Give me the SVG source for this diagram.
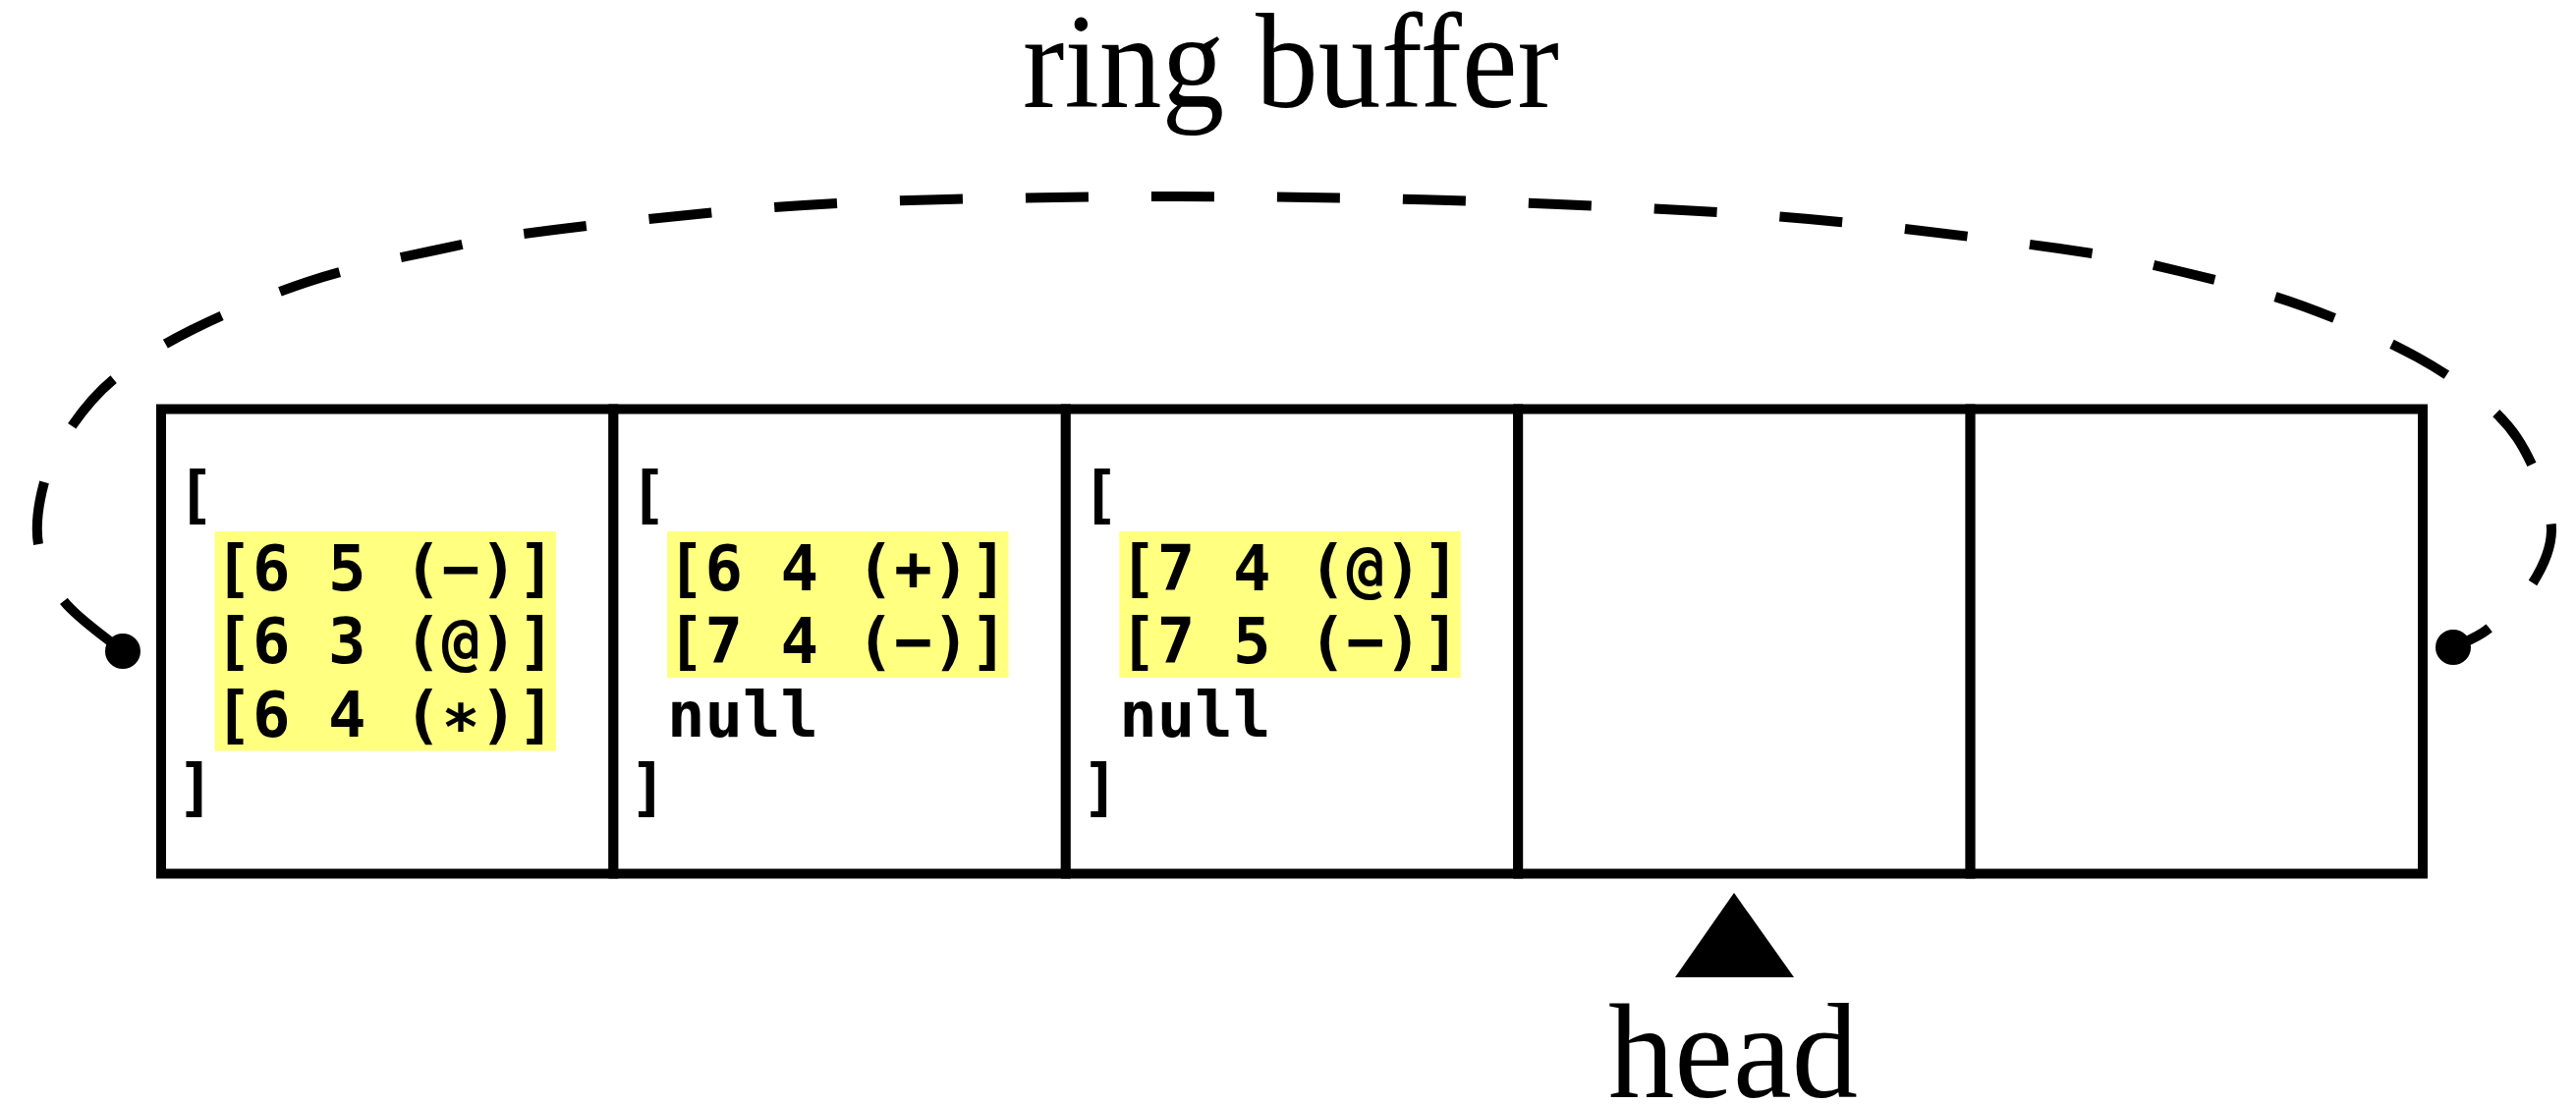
<svg xmlns="http://www.w3.org/2000/svg" width="2622" height="1124" viewBox="0 0 2622 1124">
<style>
.cell{fill:#ffffff;stroke:#000000;stroke-width:10}
.hl{fill:#ffff80;stroke:none}
.code{font-family:"DejaVu Sans Mono","Liberation Mono",monospace;font-weight:bold;font-size:64px;fill:#000000}
.label{font-family:"Liberation Serif","DejaVu Serif",serif;font-size:138px;fill:#000000}
.loop{fill:none;stroke:#000000;stroke-width:10;stroke-dasharray:64 64;stroke-dashoffset:113}
</style>
<rect width="2622" height="1124" fill="#ffffff"/>
<text id="title" class="label" x="1314" y="109" text-anchor="middle" textLength="546" lengthAdjust="spacingAndGlyphs">ring buffer</text>
<g id="cell0">
<rect class="cell" x="164" y="416.5" width="460.4" height="473"/>
<rect class="hl" x="218.5" y="541" width="347.5" height="223.5"/>
<text class="code"><tspan x="180" y="526">[</tspan><tspan x="218.5" y="600.5">[6 5 (−)]</tspan><tspan x="218.5" y="675">[6 3 (@)]</tspan><tspan x="218.5" y="749.5">[6 4 (∗)]</tspan><tspan x="180" y="824">]</tspan></text>
</g>
<g id="cell1">
<rect class="cell" x="624.4" y="416.5" width="460.4" height="473"/>
<rect class="hl" x="679" y="541" width="347.5" height="149"/>
<text class="code"><tspan x="640.4" y="526">[</tspan><tspan x="679" y="600.5">[6 4 (+)]</tspan><tspan x="679" y="675">[7 4 (−)]</tspan><tspan x="679" y="749.5">null</tspan><tspan x="640.4" y="824">]</tspan></text>
</g>
<g id="cell2">
<rect class="cell" x="1084.8" y="416.5" width="460.4" height="473"/>
<rect class="hl" x="1139.3" y="541" width="347.5" height="149"/>
<text class="code"><tspan x="1100.8" y="526">[</tspan><tspan x="1139.3" y="600.5">[7 4 (@)]</tspan><tspan x="1139.3" y="675">[7 5 (−)]</tspan><tspan x="1139.3" y="749.5">null</tspan><tspan x="1100.8" y="824">]</tspan></text>
</g>
<g id="cell3">
<rect class="cell" x="1545.2" y="416.5" width="460.4" height="473"/>
</g>
<g id="cell4">
<rect class="cell" x="2005.6" y="416.5" width="460.4" height="473"/>
</g>
<g id="connectors">
<path class="loop" d="M125,663 C115,654.5 79.3,630.2 65,612 C50.7,593.8 42.3,574.2 39,554 C35.7,533.8 39.7,510.5 45,491 C50.3,471.5 59,454.7 71,437 C83,419.3 96.3,401.8 117,385 C137.7,368.2 162.3,352.3 195,336 C227.7,319.7 272.7,300.3 313,287 C353.3,273.7 395.2,264.8 437,256 C478.8,247.2 500.5,241.8 564,234 C627.5,226.2 733,214.5 818,209 C903,203.5 988.7,202.3 1074,201 C1159.3,199.7 1244.7,199.8 1330,201 C1415.3,202.2 1500.8,204.3 1586,208 C1671.2,211.7 1756,215.5 1841,223 C1926,230.5 2032.5,244 2096,253 C2159.5,262 2180.5,267.2 2222,277 C2263.5,286.8 2305.2,297.5 2345,312 C2384.8,326.5 2428.5,346 2461,364 C2493.5,382 2520.5,401.5 2540,420 C2559.5,438.5 2568.5,455 2578,475 C2587.5,495 2597.2,520 2597,540 C2596.8,560 2587.7,578.3 2577,595 C2566.3,611.7 2546.3,629.3 2533,640 C2519.7,650.7 2503,655.8 2497,659"/>
<circle cx="125" cy="663" r="18" fill="#000000"/>
<circle cx="2497" cy="659" r="18" fill="#000000"/>
</g>
<g id="head">
<polygon points="1765,909 1705,995 1826,995" fill="#000000"/>
<text class="label" x="1764" y="1117" text-anchor="middle" textLength="254" lengthAdjust="spacingAndGlyphs">head</text>
</g>
</svg>
